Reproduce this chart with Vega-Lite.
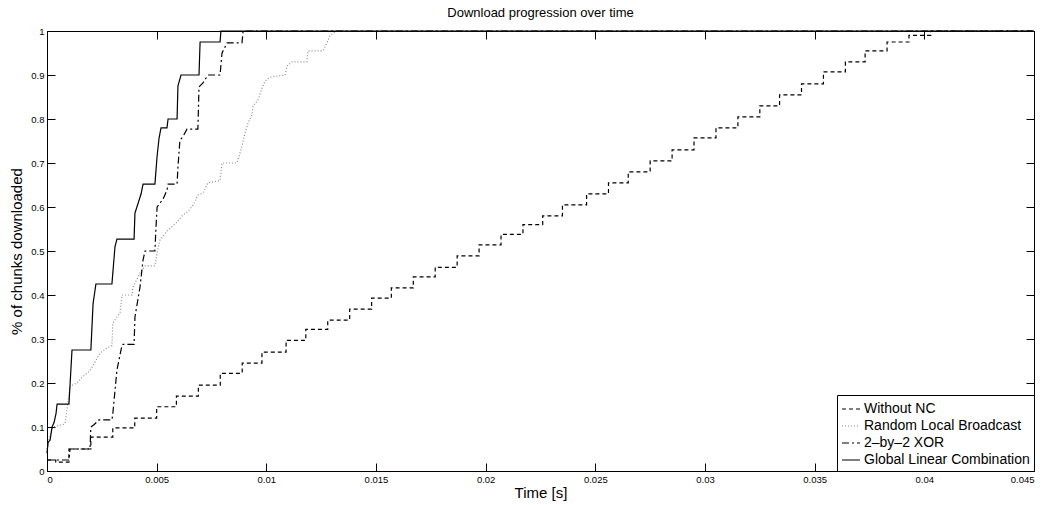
{
  "$schema": "https://vega.github.io/schema/vega-lite/v6.json",
  "width": 987,
  "height": 440,
  "autosize": {"type": "none"},
  "padding": {"left": 47, "top": 31, "right": 16, "bottom": 34},
  "background": "white",
  "title": {"text": "Download progression over time", "fontSize": 13, "fontWeight": "normal", "font": "Liberation Sans", "offset": 6, "color": "black"},
  "config": {
    "view": {"stroke": "black", "strokeWidth": 1},
    "font": "Liberation Sans",
    "axis": {"grid": false, "domainColor": "black", "tickColor": "black", "labelColor": "black", "titleColor": "black", "labelFont": "Liberation Sans", "titleFont": "Liberation Sans", "labelFontSize": 9.5, "titleFontSize": 15, "titleFontWeight": "normal", "tickSize": -8, "labelPadding": 11},
    "legend": {"orient": "bottom-right", "offset": 0, "strokeColor": "black", "fillColor": "white", "padding": 4, "labelFont": "Liberation Sans", "labelFontSize": 14, "labelColor": "black", "labelLimit": 300, "symbolType": "stroke", "symbolSize": 324, "symbolStrokeWidth": 1.2, "rowPadding": 0, "labelOffset": 3, "cornerRadius": 0}
  },
  "datasets": {
    "nonc": [
      {"s": "Without NC", "t": 0, "v": 0.025},
      {"s": "Without NC", "t": 0.0004, "v": 0.02},
      {"s": "Without NC", "t": 0.001, "v": 0.05},
      {"s": "Without NC", "t": 0.002, "v": 0.077},
      {"s": "Without NC", "t": 0.003, "v": 0.098},
      {"s": "Without NC", "t": 0.004, "v": 0.12},
      {"s": "Without NC", "t": 0.005, "v": 0.146},
      {"s": "Without NC", "t": 0.0059, "v": 0.17},
      {"s": "Without NC", "t": 0.0069, "v": 0.195},
      {"s": "Without NC", "t": 0.0079, "v": 0.222},
      {"s": "Without NC", "t": 0.0089, "v": 0.245},
      {"s": "Without NC", "t": 0.0098, "v": 0.27},
      {"s": "Without NC", "t": 0.0109, "v": 0.297},
      {"s": "Without NC", "t": 0.0118, "v": 0.322},
      {"s": "Without NC", "t": 0.0128, "v": 0.343},
      {"s": "Without NC", "t": 0.0138, "v": 0.368},
      {"s": "Without NC", "t": 0.0148, "v": 0.393},
      {"s": "Without NC", "t": 0.0157, "v": 0.416},
      {"s": "Without NC", "t": 0.0167, "v": 0.441},
      {"s": "Without NC", "t": 0.0177, "v": 0.463},
      {"s": "Without NC", "t": 0.0187, "v": 0.489},
      {"s": "Without NC", "t": 0.0197, "v": 0.514},
      {"s": "Without NC", "t": 0.0207, "v": 0.538},
      {"s": "Without NC", "t": 0.0217, "v": 0.56},
      {"s": "Without NC", "t": 0.0226, "v": 0.58},
      {"s": "Without NC", "t": 0.0235, "v": 0.605},
      {"s": "Without NC", "t": 0.0246, "v": 0.63},
      {"s": "Without NC", "t": 0.0256, "v": 0.655},
      {"s": "Without NC", "t": 0.0265, "v": 0.68},
      {"s": "Without NC", "t": 0.0275, "v": 0.705},
      {"s": "Without NC", "t": 0.0285, "v": 0.73},
      {"s": "Without NC", "t": 0.0295, "v": 0.757},
      {"s": "Without NC", "t": 0.0305, "v": 0.78},
      {"s": "Without NC", "t": 0.0315, "v": 0.805},
      {"s": "Without NC", "t": 0.0325, "v": 0.83},
      {"s": "Without NC", "t": 0.0334, "v": 0.855},
      {"s": "Without NC", "t": 0.0344, "v": 0.88},
      {"s": "Without NC", "t": 0.0354, "v": 0.907},
      {"s": "Without NC", "t": 0.0364, "v": 0.93},
      {"s": "Without NC", "t": 0.0373, "v": 0.955},
      {"s": "Without NC", "t": 0.0383, "v": 0.975},
      {"s": "Without NC", "t": 0.0393, "v": 0.99},
      {"s": "Without NC", "t": 0.0403, "v": 1.0},
      {"s": "Without NC", "t": 0.045, "v": 1.0}
    ],
    "other": [
      {"s": "Random Local Broadcast", "t": 0, "v": 0.05},
      {"s": "Random Local Broadcast", "t": 0.00014, "v": 0.08},
      {"s": "Random Local Broadcast", "t": 0.00027, "v": 0.1},
      {"s": "Random Local Broadcast", "t": 0.00082, "v": 0.107},
      {"s": "Random Local Broadcast", "t": 0.00091, "v": 0.14},
      {"s": "Random Local Broadcast", "t": 0.00105, "v": 0.19},
      {"s": "Random Local Broadcast", "t": 0.00114, "v": 0.195},
      {"s": "Random Local Broadcast", "t": 0.00137, "v": 0.2},
      {"s": "Random Local Broadcast", "t": 0.0016, "v": 0.213},
      {"s": "Random Local Broadcast", "t": 0.00196, "v": 0.228},
      {"s": "Random Local Broadcast", "t": 0.00219, "v": 0.248},
      {"s": "Random Local Broadcast", "t": 0.00242, "v": 0.268},
      {"s": "Random Local Broadcast", "t": 0.00274, "v": 0.28},
      {"s": "Random Local Broadcast", "t": 0.00296, "v": 0.285},
      {"s": "Random Local Broadcast", "t": 0.003, "v": 0.336},
      {"s": "Random Local Broadcast", "t": 0.00333, "v": 0.36},
      {"s": "Random Local Broadcast", "t": 0.00342, "v": 0.4},
      {"s": "Random Local Broadcast", "t": 0.00388, "v": 0.4},
      {"s": "Random Local Broadcast", "t": 0.00392, "v": 0.418},
      {"s": "Random Local Broadcast", "t": 0.00424, "v": 0.45},
      {"s": "Random Local Broadcast", "t": 0.00447, "v": 0.466},
      {"s": "Random Local Broadcast", "t": 0.00492, "v": 0.466},
      {"s": "Random Local Broadcast", "t": 0.00502, "v": 0.495},
      {"s": "Random Local Broadcast", "t": 0.00515, "v": 0.525},
      {"s": "Random Local Broadcast", "t": 0.00547, "v": 0.545},
      {"s": "Random Local Broadcast", "t": 0.00593, "v": 0.566},
      {"s": "Random Local Broadcast", "t": 0.0062, "v": 0.582},
      {"s": "Random Local Broadcast", "t": 0.00643, "v": 0.59},
      {"s": "Random Local Broadcast", "t": 0.00666, "v": 0.604},
      {"s": "Random Local Broadcast", "t": 0.00688, "v": 0.627},
      {"s": "Random Local Broadcast", "t": 0.00711, "v": 0.632},
      {"s": "Random Local Broadcast", "t": 0.00734, "v": 0.655},
      {"s": "Random Local Broadcast", "t": 0.00789, "v": 0.66},
      {"s": "Random Local Broadcast", "t": 0.00798, "v": 0.7},
      {"s": "Random Local Broadcast", "t": 0.00866, "v": 0.7},
      {"s": "Random Local Broadcast", "t": 0.00889, "v": 0.738},
      {"s": "Random Local Broadcast", "t": 0.00903, "v": 0.768},
      {"s": "Random Local Broadcast", "t": 0.00916, "v": 0.79},
      {"s": "Random Local Broadcast", "t": 0.00935, "v": 0.81},
      {"s": "Random Local Broadcast", "t": 0.00939, "v": 0.83},
      {"s": "Random Local Broadcast", "t": 0.00962, "v": 0.843},
      {"s": "Random Local Broadcast", "t": 0.0098, "v": 0.87},
      {"s": "Random Local Broadcast", "t": 0.00994, "v": 0.886},
      {"s": "Random Local Broadcast", "t": 0.01017, "v": 0.895},
      {"s": "Random Local Broadcast", "t": 0.01085, "v": 0.9},
      {"s": "Random Local Broadcast", "t": 0.01094, "v": 0.92},
      {"s": "Random Local Broadcast", "t": 0.01117, "v": 0.93},
      {"s": "Random Local Broadcast", "t": 0.01185, "v": 0.93},
      {"s": "Random Local Broadcast", "t": 0.0119, "v": 0.955},
      {"s": "Random Local Broadcast", "t": 0.01258, "v": 0.955},
      {"s": "Random Local Broadcast", "t": 0.01277, "v": 0.973},
      {"s": "Random Local Broadcast", "t": 0.0129, "v": 0.99},
      {"s": "Random Local Broadcast", "t": 0.01322, "v": 1.0},
      {"s": "Random Local Broadcast", "t": 0.045, "v": 1.0},
      {"s": "2–by–2 XOR", "t": 0, "v": 0.025},
      {"s": "2–by–2 XOR", "t": 0.001, "v": 0.025},
      {"s": "2–by–2 XOR", "t": 0.00105, "v": 0.05},
      {"s": "2–by–2 XOR", "t": 0.00196, "v": 0.05},
      {"s": "2–by–2 XOR", "t": 0.002, "v": 0.1},
      {"s": "2–by–2 XOR", "t": 0.00214, "v": 0.105},
      {"s": "2–by–2 XOR", "t": 0.00237, "v": 0.116},
      {"s": "2–by–2 XOR", "t": 0.00296, "v": 0.116},
      {"s": "2–by–2 XOR", "t": 0.003, "v": 0.13},
      {"s": "2–by–2 XOR", "t": 0.00319, "v": 0.23},
      {"s": "2–by–2 XOR", "t": 0.00342, "v": 0.286},
      {"s": "2–by–2 XOR", "t": 0.00346, "v": 0.288},
      {"s": "2–by–2 XOR", "t": 0.00397, "v": 0.288},
      {"s": "2–by–2 XOR", "t": 0.00401, "v": 0.35},
      {"s": "2–by–2 XOR", "t": 0.00424, "v": 0.418},
      {"s": "2–by–2 XOR", "t": 0.00438, "v": 0.48},
      {"s": "2–by–2 XOR", "t": 0.00447, "v": 0.5},
      {"s": "2–by–2 XOR", "t": 0.00492, "v": 0.5},
      {"s": "2–by–2 XOR", "t": 0.00497, "v": 0.555},
      {"s": "2–by–2 XOR", "t": 0.00502, "v": 0.6},
      {"s": "2–by–2 XOR", "t": 0.00529, "v": 0.618},
      {"s": "2–by–2 XOR", "t": 0.00547, "v": 0.638},
      {"s": "2–by–2 XOR", "t": 0.00552, "v": 0.652},
      {"s": "2–by–2 XOR", "t": 0.00593, "v": 0.652},
      {"s": "2–by–2 XOR", "t": 0.00597, "v": 0.69},
      {"s": "2–by–2 XOR", "t": 0.00606, "v": 0.752},
      {"s": "2–by–2 XOR", "t": 0.0062, "v": 0.76},
      {"s": "2–by–2 XOR", "t": 0.00638, "v": 0.777},
      {"s": "2–by–2 XOR", "t": 0.00688, "v": 0.777},
      {"s": "2–by–2 XOR", "t": 0.00693, "v": 0.873},
      {"s": "2–by–2 XOR", "t": 0.00711, "v": 0.882},
      {"s": "2–by–2 XOR", "t": 0.00734, "v": 0.9},
      {"s": "2–by–2 XOR", "t": 0.00789, "v": 0.9},
      {"s": "2–by–2 XOR", "t": 0.00798, "v": 0.95},
      {"s": "2–by–2 XOR", "t": 0.00821, "v": 0.973},
      {"s": "2–by–2 XOR", "t": 0.00889, "v": 0.973},
      {"s": "2–by–2 XOR", "t": 0.00894, "v": 1.0},
      {"s": "2–by–2 XOR", "t": 0.045, "v": 1.0},
      {"s": "Global Linear Combination", "t": 0, "v": 0.04},
      {"s": "Global Linear Combination", "t": 0.00005, "v": 0.065},
      {"s": "Global Linear Combination", "t": 0.00014, "v": 0.07},
      {"s": "Global Linear Combination", "t": 0.00023, "v": 0.1},
      {"s": "Global Linear Combination", "t": 0.00032, "v": 0.11},
      {"s": "Global Linear Combination", "t": 0.00041, "v": 0.13},
      {"s": "Global Linear Combination", "t": 0.00046, "v": 0.152},
      {"s": "Global Linear Combination", "t": 0.001, "v": 0.152},
      {"s": "Global Linear Combination", "t": 0.00114, "v": 0.275},
      {"s": "Global Linear Combination", "t": 0.002, "v": 0.275},
      {"s": "Global Linear Combination", "t": 0.0021, "v": 0.38},
      {"s": "Global Linear Combination", "t": 0.00223, "v": 0.425},
      {"s": "Global Linear Combination", "t": 0.00296, "v": 0.425},
      {"s": "Global Linear Combination", "t": 0.0031, "v": 0.51},
      {"s": "Global Linear Combination", "t": 0.00319, "v": 0.527},
      {"s": "Global Linear Combination", "t": 0.00397, "v": 0.527},
      {"s": "Global Linear Combination", "t": 0.00401, "v": 0.586},
      {"s": "Global Linear Combination", "t": 0.00429, "v": 0.63},
      {"s": "Global Linear Combination", "t": 0.00438, "v": 0.652},
      {"s": "Global Linear Combination", "t": 0.00492, "v": 0.652},
      {"s": "Global Linear Combination", "t": 0.00502, "v": 0.716},
      {"s": "Global Linear Combination", "t": 0.00511, "v": 0.757},
      {"s": "Global Linear Combination", "t": 0.0052, "v": 0.78},
      {"s": "Global Linear Combination", "t": 0.00547, "v": 0.78},
      {"s": "Global Linear Combination", "t": 0.00552, "v": 0.8},
      {"s": "Global Linear Combination", "t": 0.00593, "v": 0.8},
      {"s": "Global Linear Combination", "t": 0.00597, "v": 0.875},
      {"s": "Global Linear Combination", "t": 0.00611, "v": 0.9},
      {"s": "Global Linear Combination", "t": 0.00693, "v": 0.9},
      {"s": "Global Linear Combination", "t": 0.00698, "v": 0.975},
      {"s": "Global Linear Combination", "t": 0.00789, "v": 0.975},
      {"s": "Global Linear Combination", "t": 0.00793, "v": 1.0},
      {"s": "Global Linear Combination", "t": 0.045, "v": 1.0}
    ]
  },
  "layer": [
    {
      "data": {"name": "nonc"},
      "mark": {"type": "line", "interpolate": "step-after", "strokeWidth": 1.2},
      "encoding": {
        "x": {"field": "t", "type": "quantitative", "scale": {"domain": [0, 0.045], "nice": false, "zero": false},
              "axis": {"orient": "bottom", "values": [0, 0.005, 0.01, 0.015, 0.02, 0.025, 0.03, 0.035, 0.04, 0.045], "format": "~g", "title": "Time [s]", "titlePadding": 2}},
        "y": {"field": "v", "type": "quantitative", "scale": {"domain": [0, 1], "nice": false},
              "axis": {"orient": "left", "values": [0, 0.1, 0.2, 0.3, 0.4, 0.5, 0.6, 0.7, 0.8, 0.9, 1], "format": "~g", "title": "% of chunks downloaded", "titlePadding": 6}},
        "color": {"field": "s", "type": "nominal",
                  "scale": {"domain": ["Without NC", "Random Local Broadcast", "2–by–2 XOR", "Global Linear Combination"], "range": ["black", "#8a8a8a", "black", "black"]},
                  "legend": {"title": null, "orient": "bottom-right"}},
        "strokeDash": {"field": "s", "type": "nominal",
                  "scale": {"domain": ["Without NC", "Random Local Broadcast", "2–by–2 XOR", "Global Linear Combination"], "range": [[4, 3], [1, 2], [7, 3, 2, 3], [1, 0]]},
                  "legend": {"title": null, "orient": "bottom-right"}}
      }
    },
    {
      "data": {"name": "other"},
      "mark": {"type": "line", "strokeWidth": 1.2},
      "encoding": {
        "x": {"field": "t", "type": "quantitative", "axis": {"orient": "top", "values": [0, 0.005, 0.01, 0.015, 0.02, 0.025, 0.03, 0.035, 0.04, 0.045], "labels": false, "title": null}},
        "y": {"field": "v", "type": "quantitative", "axis": {"orient": "right", "values": [0, 0.1, 0.2, 0.3, 0.4, 0.5, 0.6, 0.7, 0.8, 0.9, 1], "labels": false, "title": null}},
        "color": {"field": "s", "type": "nominal", "legend": {"title": null, "orient": "bottom-right"}},
        "strokeDash": {"field": "s", "type": "nominal", "legend": {"title": null, "orient": "bottom-right"}}
      }
    }
  ],
  "resolve": {"axis": {"x": "independent", "y": "independent"}}
}
